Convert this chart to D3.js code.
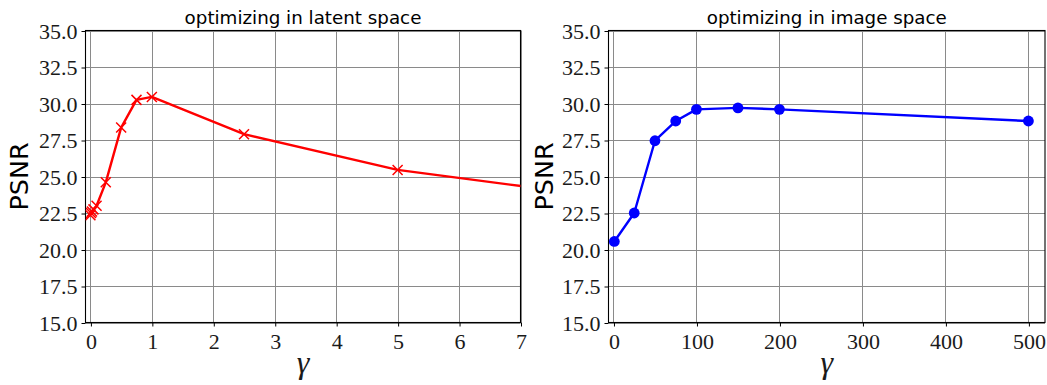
<!DOCTYPE html>
<html>
<head>
<meta charset="utf-8">
<script src="https://cdn.jsdelivr.net/npm/d3@7"></script>
</head>
<body style="margin:0;background:#fff">
<svg id="chart" width="1047" height="385" style="display:block"></svg>
<script>
// PSNR as a function of the regularisation weight gamma
const gammaLatent = [0, 0.01, 0.025, 0.05, 0.1, 0.25, 0.5, 0.75, 1, 2.5, 5, 10];
const psnrLatent  = [22.35, 22.5, 22.6, 22.75, 23.0, 24.6, 28.35, 30.25, 30.45, 27.9, 25.45, 22.7];

const gammaImage = [1, 25, 50, 75, 100, 150, 200, 500];
const psnrImage  = [20.55, 22.5, 27.45, 28.8, 29.6, 29.7, 29.6, 28.8];

const yTicks = [15, 17.5, 20, 22.5, 25, 27.5, 30, 32.5, 35];
const xTicksLatent = [0, 1, 2, 3, 4, 5, 6, 7];
const xTicksImage = [0, 100, 200, 300, 400, 500];

const titles = ["optimizing in latent space", "optimizing in image space"];

const svg = d3.select("#chart");
const GRID = "#8a8a8a";
const SERIF = "Liberation Serif";
const SANS = "DejaVu Sans";

function panel(opts) {
  const { left, right, top, bottom, xDomain, xTicks, xs, ys, color, marker, title, yLabelX, id } = opts;
  const x = d3.scaleLinear().domain(xDomain).range([left, right]);
  const y = d3.scaleLinear().domain([15, 35]).range([bottom, top]);
  const g = svg.append("g");

  g.append("clipPath").attr("id", id)
    .append("rect").attr("x", left).attr("y", top - 6)
    .attr("width", right - left).attr("height", bottom - top + 12);

  // grid
  g.append("g").selectAll("line").data(xTicks).join("line")
    .attr("x1", d => Math.round(x(d)) + 0.5).attr("x2", d => Math.round(x(d)) + 0.5)
    .attr("y1", top).attr("y2", bottom)
    .attr("stroke", GRID).attr("stroke-width", 1);
  g.append("g").selectAll("line").data(yTicks).join("line")
    .attr("y1", d => Math.round(y(d)) + 0.5).attr("y2", d => Math.round(y(d)) + 0.5)
    .attr("x1", left).attr("x2", right)
    .attr("stroke", GRID).attr("stroke-width", 1);

  // axes (ticks + labels)
  const xAxis = d3.axisBottom(x).tickValues(xTicks).tickSize(4).tickPadding(5).tickFormat(d3.format("d"));
  const yAxis = d3.axisLeft(y).tickValues(yTicks).tickSize(4).tickPadding(4).tickFormat(d3.format(".1f"));
  const gx = g.append("g").attr("transform", `translate(0.5,${bottom})`).call(xAxis);
  const gy = g.append("g").attr("transform", `translate(${left},0.5)`).call(yAxis);
  [gx, gy].forEach(a => {
    a.attr("font-family", SERIF).attr("font-size", 22);
    a.select(".domain").remove();
    a.selectAll(".tick line").attr("stroke", "#000").attr("stroke-width", 1);
    a.selectAll(".tick text").attr("fill", "#1a1a1a")
      .attr("font-family", SERIF).attr("font-size", 22);
  });
  gx.selectAll(".tick text").attr("dy", "0.78em");

  // frame
  g.append("rect").attr("x", left).attr("y", top)
    .attr("width", right - left).attr("height", bottom - top)
    .attr("fill", "none").attr("stroke", "#000").attr("stroke-width", 1.1);

  // data
  const pts = xs.map((d, i) => [d, ys[i]]);
  const plot = g.append("g").attr("clip-path", `url(#${id})`);
  plot.append("path").datum(pts)
    .attr("d", d3.line().x(d => x(d[0])).y(d => y(d[1])))
    .attr("fill", "none").attr("stroke", color).attr("stroke-width", 2.4)
    .attr("stroke-linejoin", "round");
  if (marker === "x") {
    const s = 5;
    plot.append("g").selectAll("path").data(pts).join("path")
      .attr("d", d => {
        const cx = x(d[0]), cy = y(d[1]);
        return `M${cx - s},${cy - s}L${cx + s},${cy + s}M${cx - s},${cy + s}L${cx + s},${cy - s}`;
      })
      .attr("stroke", color).attr("stroke-width", 1.5).attr("fill", "none");
  } else {
    plot.append("g").selectAll("circle").data(pts).join("circle")
      .attr("cx", d => x(d[0])).attr("cy", d => y(d[1])).attr("r", 5.4)
      .attr("fill", color);
  }

  // title
  const t = g.append("text")
    .attr("x", (left + right) / 2).attr("y", 23.5)
    .attr("text-anchor", "middle")
    .attr("font-family", SANS)
    .attr("font-size", 17)
    .attr("fill", "#000")
    .text(title);
  t.attr("font-size", (17 * opts.titleWidth / t.node().getComputedTextLength()).toFixed(2));

  // y label
  const cy = (top + bottom) / 2;
  const yl = g.append("text")
    .attr("transform", `translate(${yLabelX},${cy}) rotate(-90)`)
    .attr("text-anchor", "middle")
    .attr("font-family", SANS)
    .attr("font-size", 26)
    .attr("fill", "#000")
    .text("PSNR");
  yl.attr("font-size", (26 * 68 / yl.node().getComputedTextLength()).toFixed(2));

  // x label
  g.append("text")
    .attr("x", (left + right) / 2).attr("y", 373)
    .attr("text-anchor", "middle")
    .attr("font-family", SERIF)
    .attr("font-style", "italic")
    .attr("font-size", 32)
    .attr("fill", "#1a1a1a")
    .text("γ");
}

panel({
  id: "clipLatent", left: 85.5, right: 520.5, top: 30.5, bottom: 322.5,
  xDomain: [-0.08, 7], xTicks: xTicksLatent, xs: gammaLatent, ys: psnrLatent,
  color: "#ff0000", marker: "x", title: titles[0], titleWidth: 237, yLabelX: 28
});
panel({
  id: "clipImage", left: 608.5, right: 1045, top: 30.5, bottom: 322.5,
  xDomain: [-6, 520], xTicks: xTicksImage, xs: gammaImage, ys: psnrImage,
  color: "#0000ff", marker: "o", title: titles[1], titleWidth: 240, yLabelX: 553
});
</script>
</body>
</html>
